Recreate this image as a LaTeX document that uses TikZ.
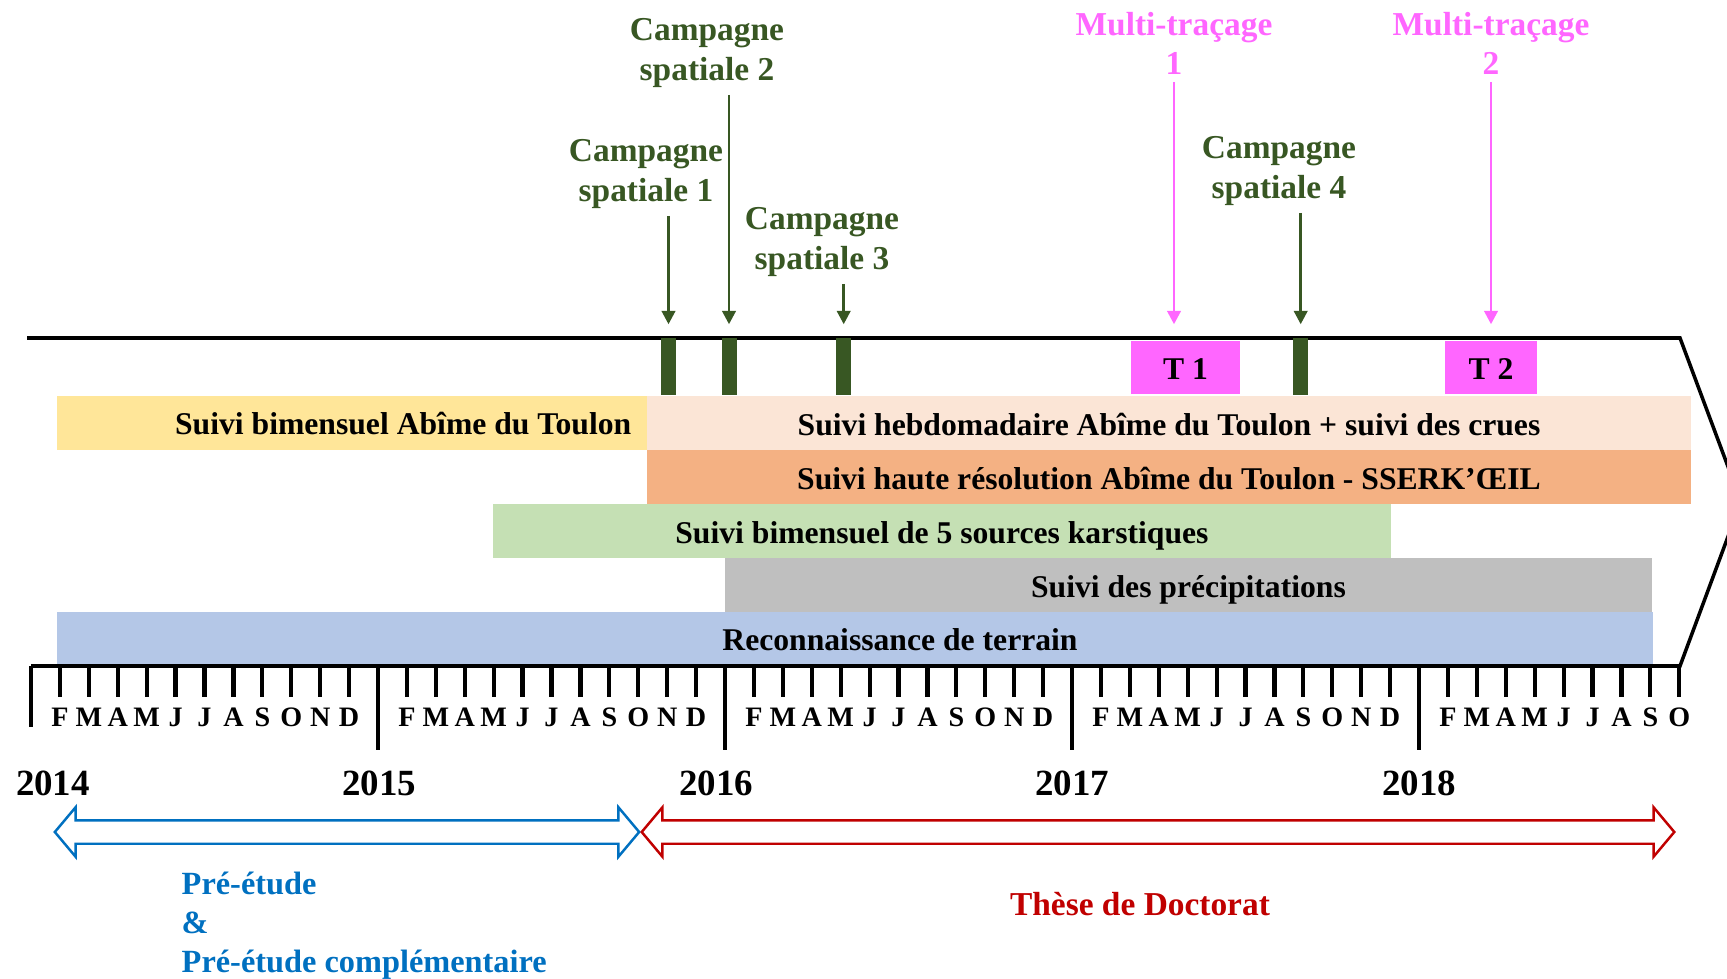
\documentclass[tikz,border=0pt]{standalone}
\usepackage{fontspec}
\setmainfont{Liberation Serif}
\usetikzlibrary{arrows.meta, positioning, shapes.arrows}

\definecolor{campgreen}{HTML}{385723}
\definecolor{tracepink}{HTML}{FF66FF}
\definecolor{yelbar}{HTML}{FFE699}
\definecolor{peachbar}{HTML}{FBE5D6}
\definecolor{orangebar}{HTML}{F4B183}
\definecolor{greenbar}{HTML}{C5E0B4}
\definecolor{graybar}{HTML}{BFBFBF}
\definecolor{bluebar}{HTML}{B4C7E7}
\definecolor{preblue}{HTML}{0070C0}
\definecolor{thesered}{HTML}{C00000}

\begin{document}
\begin{tikzpicture}[
  x=0.01cm, y=-0.01cm,
  lbl/.style={font=\fontsize{9.5}{11.1}\selectfont\bfseries, align=center, inner sep=2pt},
  barlbl/.style={font=\fontsize{9}{11}\selectfont\bfseries, inner sep=0pt, text height=7.4pt, text depth=0.4pt},
  bar/.style={minimum height=0.54cm, inner sep=0pt, anchor=north west, barlbl},
  campbar/.style={fill=campgreen, minimum width=0.15cm, minimum height=0.57cm, inner sep=0pt},
  tbox/.style={fill=tracepink, minimum height=0.53cm, inner sep=0pt, barlbl},
  garrow/.style={campgreen, line width=0.8pt, -{Triangle[length=3.8pt, width=3.8pt]}, shorten >=0.13cm},
  parrow/.style={tracepink, line width=0.8pt, -{Triangle[length=3.8pt, width=3.8pt]}, shorten >=0.16cm},
  axisline/.style={line width=1pt, line join=miter},
  tick/.style={line width=1.2pt},
  month/.style={font=\fontsize{8}{9}\selectfont\bfseries, inner sep=0pt},
  year/.style={font=\fontsize{10.5}{12}\selectfont\bfseries, inner sep=0pt},
  dblarrow/.style={double arrow, fill=white, line width=0.7pt, inner sep=0pt, inner ysep=0.105cm,
    double arrow head extend=0.13cm, double arrow tip angle=100}
]
\useasboundingbox (0,0) rectangle (1727,979);

% bars
\node[bar, fill=yelbar, minimum width=5.90cm] (yel) at (56,395) {};
\node[bar, fill=peachbar, minimum width=10.44cm] (peach) at (646,395) {Suivi hebdomadaire Abîme du Toulon + suivi des crues};
\node[bar, fill=orangebar, minimum width=10.44cm] (orange) at (646,449) {Suivi haute résolution Abîme du Toulon - SSERK’ŒIL};
\node[bar, fill=greenbar, minimum width=8.98cm] (green) at (492,503) {Suivi bimensuel de 5 sources karstiques};
\node[bar, fill=graybar, minimum width=9.27cm] (gray) at (724,557) {Suivi des précipitations};
\node[bar, fill=bluebar, minimum width=15.95cm] (blue) at (56,611) {};
\node[barlbl, anchor=east] (lyel) at (632,422) {Suivi bimensuel Abîme du Toulon};
\node[barlbl] (lblue) at (900,638) {Reconnaissance de terrain};

% outline and time axis
\draw[axisline] (27,338) -- (1680,338) -- (1741,501.5) -- (1680,666) -- (31,666);
\draw[tick] (31,666) -- ++(0,61);
\foreach \yr in {1,2,3,4}
  \draw[tick] ({31+347*\yr},666) -- ++(0,84);
\foreach \yr in {0,1,2,3}
  \foreach \mo [count=\i] in {F,M,A,M,J,J,A,S,O,N,D} {
    \draw[tick] ({31+347*\yr+28.92*\i},666) -- ++(0,31);
    \node[month] (mo\yr-\i) at ({31+347*\yr+28.92*\i},717) {\mo};
  }
\foreach \mo [count=\i] in {F,M,A,M,J,J,A,S,O} {
  \draw[tick] ({31+347*4+28.92*\i},666) -- ++(0,31);
  \node[month] (mo4-\i) at ({31+347*4+28.92*\i},717) {\mo};
}
\node[year] (y14) at (53,783) {2014};
\node[year] (y15) at (379,783) {2015};
\node[year] (y16) at (716,783) {2016};
\node[year] (y17) at (1072,783) {2017};
\node[year] (y18) at (1419,783) {2018};

% campaigns and tracer tests
\node[campbar] (k1) at (668.5,366.5) {};
\node[campbar] (k2) at (729,366.5) {};
\node[campbar] (k3) at (843.7,366.5) {};
\node[campbar] (k4) at (1300.7,366.5) {};
\node[tbox, minimum width=1.09cm] (t1) at (1185.5,367.5) {T 1};
\node[tbox, minimum width=0.92cm] (t2) at (1491,367.5) {T 2};

\node[lbl, campgreen] (c1) at (646,174) {Campagne\\spatiale 1};
\node[lbl, campgreen] (c2) at (707,53) {Campagne\\spatiale 2};
\node[lbl, campgreen] (c3) at (822,242) {Campagne\\spatiale 3};
\node[lbl, campgreen] (c4) at (1279,171) {Campagne\\spatiale 4};
\node[lbl, tracepink] (mt1) at (1174,43) {Multi-traçage\\1};
\node[lbl, tracepink] (mt2) at (1491,43) {Multi-traçage\\2};

\draw[garrow] (c1.south -| k1) -- (k1.north);
\draw[garrow] (c2.south -| k2) -- (k2.north);
\draw[garrow] (c3.south -| k3) -- (k3.north);
\draw[garrow] (c4.south -| k4) -- (k4.north);
\draw[parrow] (mt1.south) -- (mt1 |- t1.north);
\draw[parrow] (mt2.south) -- (mt2 |- t2.north);

% periods
\node[dblarrow, draw=preblue, minimum height=5.84cm] (pre) at (347,832) {};
\node[dblarrow, draw=thesered, minimum height=10.32cm] (these) at (1158,832) {};
\node[lbl, preblue, align=left, anchor=west, font=\fontsize{9.2}{11.1}\selectfont\bfseries] (lpre) at (174,926) {Pré-étude\\\&\\Pré-étude complémentaire};
\node[lbl, thesered] (lthese) at (1140,904) {Thèse de Doctorat};
\end{tikzpicture}
\end{document}
